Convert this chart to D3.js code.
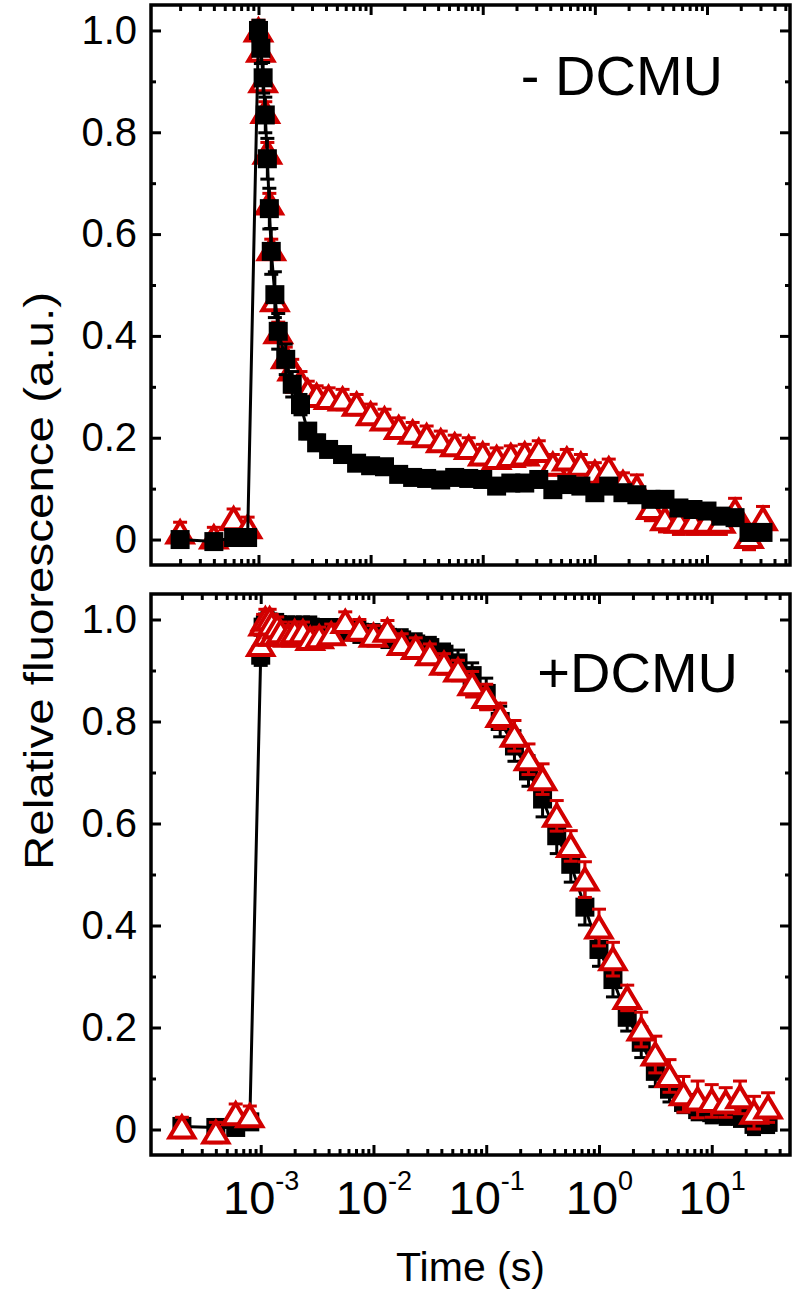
<!DOCTYPE html>
<html>
<head>
<meta charset="utf-8">
<script src="https://cdn.jsdelivr.net/npm/d3@7/dist/d3.min.js"></script>
<style>
  html, body { margin: 0; padding: 0; background: #fff; }
  svg { display: block; }
  text { font-family: "Liberation Sans", Arial, sans-serif; fill: #000; }
</style>
</head>
<body>
<script>
// ---------------- DATA ----------------
// Measurement times (s), shared by all four series
const times = [
  2e-4, 4e-4, 6e-4, 8e-4,
  1.0e-3, 1.05e-3, 1.1e-3, 1.15e-3, 1.2e-3, 1.25e-3, 1.3e-3, 1.4e-3, 1.5e-3, 1.75e-3, 2.0e-3, 2.37e-3, 2.75e-3, 3.3e-3,
  4.22e-3, 5.62e-3, 7.5e-3,
  1.0e-2, 1.33e-2, 1.78e-2, 2.37e-2, 3.16e-2, 4.22e-2, 5.62e-2, 7.5e-2,
  0.1, 0.133, 0.178, 0.237, 0.316, 0.422, 0.562, 0.75,
  1.0, 1.33, 1.78, 2.37, 3.16, 4.22, 5.62, 7.5,
  10, 13.3, 17.8, 23.7, 31.6
];

// Top panel (- DCMU)
const topBlack = [
  0.0, -0.004, 0.004, 0.004,
  1.0, 0.965, 0.907, 0.834, 0.748, 0.65, 0.566, 0.481, 0.409, 0.354, 0.305, 0.265, 0.213, 0.19,
  0.177, 0.167, 0.15,
  0.145, 0.143, 0.128, 0.122, 0.12, 0.117, 0.122, 0.12,
  0.118, 0.105, 0.111, 0.111, 0.118, 0.098, 0.108, 0.105,
  0.092, 0.105, 0.092, 0.088, 0.079, 0.079, 0.062, 0.059,
  0.056, 0.046, 0.043, 0.014, 0.014
];
const topBlackErr = [
  0.01, 0.01, 0.01, 0.01,
  0.02, 0.03, 0.03, 0.035, 0.04, 0.04, 0.045, 0.045, 0.035, 0.03, 0.025, 0.02, 0.015, 0.015,
  0.012, 0.012, 0.01,
  0.01, 0.01, 0.01, 0.01, 0.01, 0.01, 0.01, 0.01,
  0.01, 0.01, 0.01, 0.01, 0.01, 0.01, 0.01, 0.01,
  0.01, 0.01, 0.01, 0.01, 0.01, 0.01, 0.01, 0.01,
  0.01, 0.01, 0.01, 0.015, 0.01
];
const topRed = [
  0.014, 0.004, 0.04, 0.024,
  1.0, 0.96, 0.90, 0.84, 0.76, 0.66, 0.57, 0.47, 0.407, 0.358, 0.334, 0.31, 0.291, 0.282,
  0.278, 0.275, 0.265,
  0.246, 0.236, 0.219, 0.21, 0.203, 0.193, 0.185, 0.18,
  0.167, 0.16, 0.164, 0.167, 0.174, 0.147, 0.157, 0.147,
  0.131, 0.138, 0.111, 0.102, 0.062, 0.04, 0.035, 0.035,
  0.035, 0.035, 0.056, 0.005, 0.04
];
const topRedErr = [
  0.02, 0.02, 0.02, 0.02,
  0.02, 0.02, 0.02, 0.02, 0.02, 0.02, 0.02, 0.02, 0.02, 0.02, 0.02, 0.02, 0.02, 0.02,
  0.02, 0.02, 0.02,
  0.02, 0.02, 0.02, 0.02, 0.02, 0.02, 0.02, 0.02,
  0.02, 0.02, 0.02, 0.02, 0.02, 0.02, 0.02, 0.02,
  0.02, 0.02, 0.02, 0.025, 0.025, 0.025, 0.025, 0.025,
  0.025, 0.025, 0.025, 0.025, 0.025
];

// Bottom panel (+DCMU)
const botBlack = [
  0.006, 0.004, 0.004, 0.015,
  0.93, 0.985, 0.99, 0.995, 0.99, 0.99, 0.985, 0.99, 0.985, 0.985, 0.985, 0.985, 0.985, 0.98,
  0.98, 0.98, 0.975,
  0.97, 0.965, 0.96, 0.952, 0.945, 0.932, 0.915, 0.89,
  0.855, 0.80, 0.752, 0.703, 0.648, 0.576, 0.52, 0.436,
  0.353, 0.294, 0.22, 0.171, 0.114, 0.079, 0.053, 0.039,
  0.033, 0.03, 0.026, 0.01, 0.014
];
const botBlackErr = [
  0.01, 0.01, 0.01, 0.01,
  0.02, 0.02, 0.02, 0.02, 0.02, 0.02, 0.02, 0.02, 0.02, 0.02, 0.02, 0.02, 0.02, 0.02,
  0.02, 0.02, 0.02,
  0.02, 0.02, 0.02, 0.02, 0.02, 0.02, 0.025, 0.025,
  0.03, 0.03, 0.03, 0.03, 0.035, 0.035, 0.035, 0.035,
  0.033, 0.034, 0.027, 0.03, 0.03, 0.025, 0.02, 0.02,
  0.02, 0.02, 0.02, 0.02, 0.02
];
const botRed = [
  0.004, -0.006, 0.03, 0.026,
  0.95, 0.99, 1.0, 0.97, 1.0, 0.99, 0.97, 0.985, 0.975, 0.968, 0.975, 0.975, 0.962, 0.965,
  0.971, 0.995, 0.98,
  0.968, 0.978, 0.952, 0.944, 0.932, 0.913, 0.9, 0.873,
  0.848, 0.811, 0.772, 0.726, 0.687, 0.615, 0.556, 0.49,
  0.396, 0.334, 0.258, 0.196, 0.147, 0.105, 0.069, 0.059,
  0.056, 0.053, 0.063, 0.033, 0.043
];
const botRedErr = [
  0.02, 0.02, 0.02, 0.02,
  0.02, 0.02, 0.02, 0.02, 0.02, 0.02, 0.02, 0.02, 0.02, 0.02, 0.02, 0.02, 0.02, 0.02,
  0.02, 0.02, 0.02,
  0.02, 0.02, 0.02, 0.02, 0.02, 0.02, 0.02, 0.025,
  0.025, 0.025, 0.03, 0.03, 0.03, 0.03, 0.03, 0.035,
  0.036, 0.033, 0.025, 0.034, 0.036, 0.032, 0.035, 0.036,
  0.032, 0.029, 0.032, 0.032, 0.029
];

const yTickValues = [0, 0.2, 0.4, 0.6, 0.8, 1.0];
const yTickLabels = ["0", "0.2", "0.4", "0.6", "0.8", "1.0"];
const xTickExponents = [-3, -2, -1, 0, 1];
const panelLabels = ["- DCMU", "+DCMU"];
const xTitle = "Time (s)";
const yTitle = "Relative fluorescence (a.u.)";

// ---------------- LAYOUT ----------------
const W = 797, H = 1300;
const RED = "#d20000";
const L = 151, R = 790;

const svg = d3.select("body").append("svg").attr("width", W).attr("height", H);

const panels = [
  { top: 5, bottom: 565, logLo: -3.9586, logHi: 1.7404, black: topBlack, blackErr: topBlackErr,
    red: topRed, redErr: topRedErr, order: ["red", "black"], label: panelLabels[0],
    labelX: 723, labelY: 95, xLabels: false },
  { top: 594, bottom: 1155, logLo: -3.973, logHi: 1.694, black: botBlack, blackErr: botBlackErr,
    red: botRed, redErr: botRedErr, order: ["black", "red"], label: panelLabels[1],
    labelX: 738, labelY: 692, xLabels: true }
];

function styleAxis(g) {
  g.select(".domain").remove();
  g.selectAll(".tick line").attr("stroke", "#000").attr("stroke-width", 3);
}

panels.forEach(p => {
  const x = d3.scaleLog().domain([Math.pow(10, p.logLo), Math.pow(10, p.logHi)]).range([L, R]);
  const y = d3.scaleLinear().domain([-0.05, 1.05]).range([p.bottom, p.top]);
  const g = svg.append("g");

  const allX = x.ticks();
  const majorX = xTickExponents.map(e => Math.pow(10, e));
  const isMajor = v => Math.abs(Math.log10(v) - Math.round(Math.log10(v))) < 1e-6;
  const minorX = allX.filter(v => !isMajor(v));
  const minorY = y.ticks(11).filter(v => !yTickValues.some(t => Math.abs(t - v) < 1e-6));

  // x axes (bottom + top), inward ticks
  g.append("g").attr("transform", `translate(0,${p.bottom})`)
    .call(d3.axisBottom(x).tickValues(minorX).tickSize(-6).tickFormat(""))
    .call(styleAxis);
  const xb = g.append("g").attr("transform", `translate(0,${p.bottom})`)
    .call(d3.axisBottom(x).tickValues(majorX).tickSize(-10).tickFormat(""))
    .call(styleAxis);
  g.append("g").attr("transform", `translate(0,${p.top})`)
    .call(d3.axisTop(x).tickValues(minorX).tickSize(-6).tickFormat(""))
    .call(styleAxis);
  g.append("g").attr("transform", `translate(0,${p.top})`)
    .call(d3.axisTop(x).tickValues(majorX).tickSize(-10).tickFormat(""))
    .call(styleAxis);

  // y axes (left + right)
  const yl = g.append("g").attr("transform", `translate(${L},0)`)
    .call(d3.axisLeft(y).tickValues(yTickValues).tickSize(-10).tickPadding(14)
      .tickFormat((d, i) => yTickLabels[i]))
    .call(styleAxis);
  yl.selectAll(".tick text").attr("font-size", 40).attr("font-family", "Liberation Sans, Arial, sans-serif")
    .attr("fill", "#000");
  g.append("g").attr("transform", `translate(${L},0)`)
    .call(d3.axisLeft(y).tickValues(minorY).tickSize(-5).tickFormat(""))
    .call(styleAxis);
  g.append("g").attr("transform", `translate(${R},0)`)
    .call(d3.axisRight(y).tickValues(yTickValues).tickSize(-10).tickFormat(""))
    .call(styleAxis);
  g.append("g").attr("transform", `translate(${R},0)`)
    .call(d3.axisRight(y).tickValues(minorY).tickSize(-5).tickFormat(""))
    .call(styleAxis);

  if (p.xLabels) {
    xb.selectAll(".tick").each(function (d, i) {
      const t = d3.select(this).append("text")
        .attr("y", 1214 - p.bottom)
        .attr("text-anchor", "middle")
        .attr("font-size", 47)
        .attr("fill", "#000");
      t.append("tspan").text("10");
      t.append("tspan").attr("dy", -24).attr("font-size", 27).text(String(xTickExponents[i]));
    });
  }

  // frame
  g.append("rect").attr("x", L).attr("y", p.top).attr("width", R - L).attr("height", p.bottom - p.top)
    .attr("fill", "none").attr("stroke", "#000").attr("stroke-width", 3.5);

  // series
  const series = {
    black: times.map((t, i) => ({ t, v: p.black[i], e: p.blackErr[i] })),
    red: times.map((t, i) => ({ t, v: p.red[i], e: p.redErr[i] }))
  };

  p.order.forEach(name => {
    const data = series[name];
    const col = name === "black" ? "#000" : RED;
    const sg = g.append("g");
    if (name === "black") {
      sg.append("path").datum(data)
        .attr("fill", "none").attr("stroke", "#000").attr("stroke-width", 3)
        .attr("d", d3.line().x(d => x(d.t)).y(d => y(d.v)));
    }
    // error bars
    const eb = sg.append("g").attr("stroke", col).attr("stroke-width", 3);
    const capW = 7;
    eb.selectAll("line.v").data(data).join("line").attr("class", "v")
      .attr("x1", d => x(d.t)).attr("x2", d => x(d.t))
      .attr("y1", d => y(d.v - d.e)).attr("y2", d => y(d.v + d.e));
    eb.selectAll("line.cu").data(data).join("line").attr("class", "cu")
      .attr("x1", d => x(d.t) - capW).attr("x2", d => x(d.t) + capW)
      .attr("y1", d => y(d.v + d.e)).attr("y2", d => y(d.v + d.e));
    eb.selectAll("line.cl").data(data).join("line").attr("class", "cl")
      .attr("x1", d => x(d.t) - capW).attr("x2", d => x(d.t) + capW)
      .attr("y1", d => y(d.v - d.e)).attr("y2", d => y(d.v - d.e));
    // markers
    if (name === "black") {
      sg.selectAll("rect.m").data(data).join("rect").attr("class", "m")
        .attr("x", d => x(d.t) - 9.5).attr("y", d => y(d.v) - 9.5)
        .attr("width", 19).attr("height", 19).attr("fill", "#000");
    } else {
      sg.selectAll("path.m").data(data).join("path").attr("class", "m")
        .attr("transform", d => `translate(${x(d.t)},${y(d.v)})`)
        .attr("d", "M0,-11L12.5,10L-12.5,10Z")
        .attr("fill", "#fff").attr("stroke", RED).attr("stroke-width", 4)
        .attr("stroke-linejoin", "miter");
    }
  });

  // panel label
  g.append("text").attr("x", p.labelX).attr("y", p.labelY)
    .attr("text-anchor", "end").attr("font-size", 56).text(p.label);
});

// axis titles
svg.append("text").attr("x", (L + R) / 2).attr("y", 1281)
  .attr("text-anchor", "middle").attr("font-size", 41).text(xTitle);
svg.append("text").attr("transform", "translate(53,581) rotate(-90)")
  .attr("text-anchor", "middle").attr("font-size", 40)
  .attr("textLength", 578).attr("lengthAdjust", "spacingAndGlyphs").text(yTitle);
</script>
</body>
</html>
